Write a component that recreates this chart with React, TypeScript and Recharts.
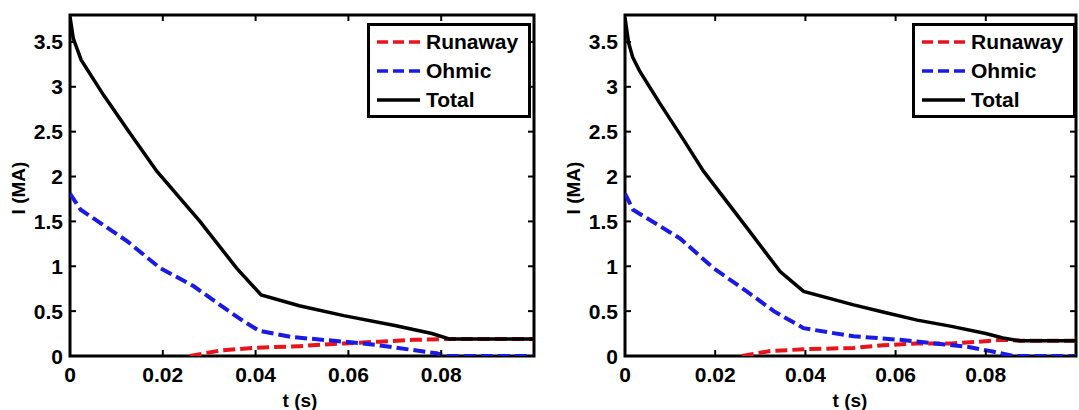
import { LineChart, Line, XAxis, YAxis, Legend, ReferenceArea } from "recharts";

// time axis ticks and current axis ticks (shared by both panels)
const tTicks = [0, 0.02, 0.04, 0.06, 0.08];
const iTicks = [0, 0.5, 1, 1.5, 2, 2.5, 3, 3.5];

// left panel
const leftTotalT = [0, 0.0007, 0.0024, 0.0072, 0.0124, 0.0187, 0.028, 0.0359, 0.0412, 0.0494, 0.059, 0.07, 0.078, 0.0817, 0.1];
const leftTotalI = [3.78, 3.54, 3.3, 2.91, 2.52, 2.06, 1.5, 0.98, 0.68, 0.56, 0.45, 0.34, 0.25, 0.19, 0.19];
const leftOhmicT = [0, 0.0023, 0.0123, 0.0194, 0.0266, 0.0323, 0.0373, 0.0408, 0.048, 0.059, 0.0665, 0.074, 0.079, 0.081, 0.1];
const leftOhmicI = [1.81, 1.63, 1.28, 0.98, 0.78, 0.57, 0.39, 0.28, 0.21, 0.16, 0.12, 0.066, 0.03, 0, 0];
const leftRunawayT = [0.0258, 0.0323, 0.0394, 0.0494, 0.059, 0.0665, 0.074, 0.0817, 0.1];
const leftRunawayI = [0, 0.06, 0.09, 0.11, 0.14, 0.16, 0.18, 0.19, 0.19];

// right panel
const rightTotalT = [0, 0.0008, 0.0017, 0.0032, 0.0078, 0.0131, 0.0174, 0.027, 0.0344, 0.0396, 0.0507, 0.0572, 0.0648, 0.0724, 0.08, 0.0838, 0.0876, 0.1];
const rightTotalI = [3.77, 3.49, 3.33, 3.18, 2.81, 2.4, 2.06, 1.43, 0.94, 0.72, 0.57, 0.49, 0.4, 0.33, 0.25, 0.2, 0.17, 0.17];
const rightOhmicT = [0, 0.0018, 0.0122, 0.0196, 0.027, 0.033, 0.0396, 0.0456, 0.0507, 0.061, 0.0686, 0.0762, 0.0815, 0.0861, 0.1];
const rightOhmicI = [1.81, 1.63, 1.31, 0.98, 0.72, 0.5, 0.31, 0.26, 0.22, 0.18, 0.14, 0.1, 0.05, 0, 0];
const rightRunawayT = [0.0259, 0.0322, 0.0396, 0.0507, 0.0572, 0.0648, 0.0724, 0.0785, 0.0838, 0.0876, 0.1];
const rightRunawayI = [0, 0.055, 0.075, 0.09, 0.12, 0.14, 0.14, 0.16, 0.18, 0.17, 0.17];

const FONT = "'Liberation Sans', Arial, sans-serif";
const PLOT_TOP = 15;
const PLOT_BOTTOM = 356;
const TICK_LEN = 6;

const toRows = (t: number[], i: number[]) => t.map((v, k) => ({ t: v, i: i[k] }));

const seriesStyle = [
  { name: "Runaway", color: "#e8141c", dash: "12 5", width: 4 },
  { name: "Ohmic", color: "#1a1ae6", dash: "12 5", width: 4 },
  { name: "Total", color: "#000000", dash: undefined, width: 3.5 },
];

const fmtT = (v: number) => (v === 0 ? "0" : v.toFixed(2));

function LegendBox() {
  return (
    <div style={{ width: 158, height: 88, border: "3px solid #000", background: "#fff", paddingTop: 1, fontFamily: FONT }}>
      {seriesStyle.map(s => (
        <div key={s.name} style={{ display: "flex", alignItems: "center", height: 29 }}>
          <svg width={56} height={10} style={{ display: "block" }}>
            <line x1={7} y1={5} x2={50} y2={5} stroke={s.color} strokeWidth={3.5} strokeDasharray={s.dash ? "11 5" : undefined} />
          </svg>
          <span style={{ fontSize: 21, fontWeight: "bold", color: "#000", lineHeight: "29px" }}>{s.name}</span>
        </div>
      ))}
    </div>
  );
}

// matlab style: ticks point inward on all four sides of the box
const makeXTick = () => (props: any) => {
  const { x, payload } = props;
  return (
    <g>
      <line x1={x} x2={x} y1={PLOT_BOTTOM} y2={PLOT_BOTTOM - TICK_LEN} stroke="#000" strokeWidth={2} />
      <line x1={x} x2={x} y1={PLOT_TOP} y2={PLOT_TOP + TICK_LEN} stroke="#000" strokeWidth={2} />
      <text x={x} y={PLOT_BOTTOM + 11} dy="0.71em" textAnchor="middle" fill="#000"
        style={{ fontSize: 21, fontWeight: "bold", fontFamily: FONT }}>{fmtT(payload.value)}</text>
    </g>
  );
};

const makeYTick = (plotLeft: number, plotRight: number) => (props: any) => {
  const { y, payload } = props;
  return (
    <g>
      <line x1={plotLeft} x2={plotLeft + TICK_LEN} y1={y} y2={y} stroke="#000" strokeWidth={2} />
      <line x1={plotRight} x2={plotRight - TICK_LEN} y1={y} y2={y} stroke="#000" strokeWidth={2} />
      <text x={plotLeft - 7} y={y} dy="0.36em" textAnchor="end" fill="#000"
        style={{ fontSize: 21, fontWeight: "bold", fontFamily: FONT }}>{String(payload.value)}</text>
    </g>
  );
};

interface PanelProps {
  left: number;
  width: number;
  marginLeft: number;
  marginRight: number;
  total: { t: number; i: number }[];
  ohmic: { t: number; i: number }[];
  runaway: { t: number; i: number }[];
  legendLeft: number;
  yTitleX: number;
}

function Panel(p: PanelProps) {
  const plotLeft = p.marginLeft + 50;
  const plotRight = p.width - p.marginRight;
  return (
    <div style={{ position: "absolute", left: p.left, top: 0, width: p.width, height: 410 }}>
      <LineChart width={p.width} height={410} data={p.total} margin={{ top: PLOT_TOP, right: p.marginRight, bottom: 14, left: p.marginLeft }}>
        <XAxis dataKey="t" type="number" domain={[0, 0.1]} ticks={tTicks} interval={0} allowDataOverflow height={40}
          axisLine={false} tickLine={false} tick={makeXTick()} />
        <YAxis type="number" domain={[0, 3.8]} ticks={iTicks} interval={0} allowDataOverflow width={50}
          axisLine={false} tickLine={false} tick={makeYTick(plotLeft, plotRight)} />
        <Line name="Runaway" data={p.runaway} dataKey="i" type="linear" stroke={seriesStyle[0].color}
          strokeWidth={seriesStyle[0].width} strokeDasharray={seriesStyle[0].dash} dot={false} activeDot={false} isAnimationActive={false} />
        <Line name="Ohmic" data={p.ohmic} dataKey="i" type="linear" stroke={seriesStyle[1].color}
          strokeWidth={seriesStyle[1].width} strokeDasharray={seriesStyle[1].dash} dot={false} activeDot={false} isAnimationActive={false} />
        <Line name="Total" dataKey="i" type="linear" stroke={seriesStyle[2].color}
          strokeWidth={seriesStyle[2].width} dot={false} activeDot={false} isAnimationActive={false} />
        <ReferenceArea x1={0} x2={0.1} y1={0} y2={3.8} fill="none" stroke="#000" strokeWidth={3} ifOverflow="visible" />
        <Legend layout="vertical" align="center" verticalAlign="middle" content={() => <LegendBox />}
          wrapperStyle={{ left: p.legendLeft, top: 23, width: 164, height: 94 }} />
      </LineChart>
      <div style={{ position: "absolute", left: p.yTitleX - 40, top: 178, width: 80, height: 20, lineHeight: "20px",
        textAlign: "center", transform: "rotate(-90deg)", fontFamily: FONT, fontWeight: "bold", fontSize: 19 }}>I (MA)</div>
    </div>
  );
}

export default function App() {
  return (
    <div style={{ position: "absolute", left: 0, top: 0, width: 1079, height: 410, background: "#fff", overflow: "hidden" }}>
      <Panel left={0} width={540} marginLeft={20} marginRight={6}
        total={toRows(leftTotalT, leftTotalI)} ohmic={toRows(leftOhmicT, leftOhmicI)} runaway={toRows(leftRunawayT, leftRunawayI)}
        legendLeft={367} yTitleX={19} />
      <Panel left={540} width={539} marginLeft={35} marginRight={3}
        total={toRows(rightTotalT, rightTotalI)} ohmic={toRows(rightOhmicT, rightOhmicI)} runaway={toRows(rightRunawayT, rightRunawayI)}
        legendLeft={372} yTitleX={34} />
      <div style={{ position: "absolute", left: 250, top: 391, width: 100, lineHeight: "20px", textAlign: "center",
        fontFamily: FONT, fontWeight: "bold", fontSize: 19 }}>t (s)</div>
      <div style={{ position: "absolute", left: 800, top: 391, width: 100, lineHeight: "20px", textAlign: "center",
        fontFamily: FONT, fontWeight: "bold", fontSize: 19 }}>t (s)</div>
    </div>
  );
}
